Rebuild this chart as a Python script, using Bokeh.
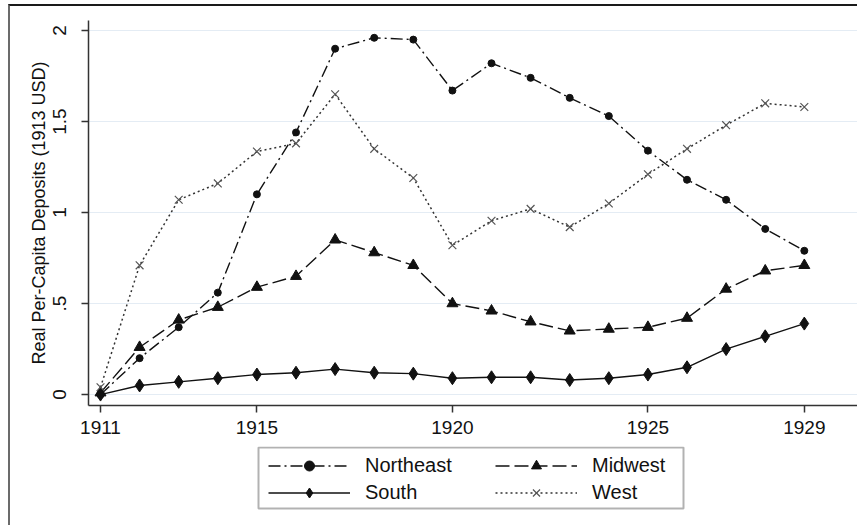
from bokeh.plotting import figure
from bokeh.layouts import column
from bokeh.models import Range1d, FixedTicker, Legend, LegendItem, BoxAnnotation
from bokeh.embed import file_html
from bokeh.resources import INLINE

years = list(range(1911, 1930))
northeast = [0.00, 0.20, 0.37, 0.56, 1.10, 1.44, 1.90, 1.96, 1.95, 1.67, 1.82, 1.74, 1.63, 1.53, 1.34, 1.18, 1.07, 0.91, 0.79]
midwest = [0.01, 0.26, 0.41, 0.48, 0.59, 0.65, 0.85, 0.78, 0.71, 0.50, 0.46, 0.40, 0.35, 0.36, 0.37, 0.42, 0.58, 0.68, 0.71]
south = [0.00, 0.05, 0.07, 0.09, 0.11, 0.12, 0.14, 0.12, 0.115, 0.09, 0.095, 0.095, 0.08, 0.09, 0.11, 0.15, 0.25, 0.32, 0.39]
west = [0.04, 0.71, 1.07, 1.16, 1.335, 1.38, 1.65, 1.35, 1.19, 0.82, 0.955, 1.02, 0.92, 1.05, 1.21, 1.35, 1.48, 1.60, 1.58]

series_names = ["Northeast", "Midwest", "South", "West"]
x_ticks = [1911, 1915, 1920, 1925, 1929]
y_ticks = [0, 0.5, 1, 1.5, 2]
y_tick_labels = ["0", ".5", "1", "1.5", "2"]
y_title = "Real Per-Capita Deposits (1913 USD)"

FONT = "Liberation Sans"
LC = "#111111"

# style of each series
styles = {
    "Northeast": dict(dash="12 4 2 4", lc=LC, lw=1.4, marker="circle", size=7, mfill=LC, mline=LC),
    "Midwest": dict(dash="14 5", lc=LC, lw=1.4, marker="triangle", size=11, mfill=LC, mline=LC),
    "South": dict(dash="solid", lc=LC, lw=1.4, marker="diamond", size=13, mfill=LC, mline=LC),
    "West": dict(dash="2 3", lc="#333333", lw=1.5, marker="x", size=11, mfill=None, mline="#555555"),
}
values = {"Northeast": northeast, "Midwest": midwest, "South": south, "West": west}


def draw_series(fig, name):
    s = styles[name]
    lr = fig.line(years, values[name], line_color=s["lc"], line_width=s["lw"], line_dash=s["dash"])
    if s["mfill"] is None:
        mr = fig.scatter(years, values[name], marker=s["marker"], size=s["size"],
                         line_color=s["mline"], line_width=1.2)
    else:
        mr = fig.scatter(years, values[name], marker=s["marker"], size=s["size"],
                         fill_color=s["mfill"], line_color=s["mline"])
    return lr, mr


# ---------------- main plot ----------------
p = figure(width=847, height=440, output_backend="svg", toolbar_location=None,
           x_range=Range1d(1910.693, 1930.36), y_range=Range1d(-0.060, 2.055),
           min_border_left=78, min_border_right=0, min_border_top=14, min_border_bottom=41)
p.outline_line_color = None
p.background_fill_color = "white"
p.border_fill_color = "white"
p.xgrid.visible = False
p.ygrid.grid_line_color = "#e4ecf4"
p.ygrid.grid_line_width = 1

for ax in (p.xaxis[0], p.yaxis[0]):
    ax.axis_line_color = "#333333"
    ax.axis_line_width = 1.5
    ax.major_tick_line_color = "#333333"
    ax.major_tick_line_width = 1.5
    ax.major_tick_out = 7
    ax.major_tick_in = 0
    ax.minor_tick_out = 0
    ax.minor_tick_in = 0
    ax.major_label_text_font = FONT
    ax.major_label_text_font_size = "19px"
    ax.major_label_text_color = "#111111"

p.xaxis.ticker = FixedTicker(ticks=x_ticks)
p.xaxis.major_label_standoff = 8
p.yaxis.ticker = FixedTicker(ticks=y_ticks)
p.yaxis.major_label_overrides = {t: l for t, l in zip(y_ticks, y_tick_labels)}
p.yaxis.major_label_orientation = "vertical"
p.yaxis.major_label_standoff = 15
p.yaxis.axis_label = y_title
p.yaxis.axis_label_text_font = FONT
p.yaxis.axis_label_text_font_size = "18px"
p.yaxis.axis_label_text_font_style = "normal"
p.yaxis.axis_label_text_color = "#111111"
p.yaxis.axis_label_standoff = 2

for name in series_names:
    draw_series(p, name)

# ---------------- legend panel (same series, drawn out of view; only the legend shows) ----------------
p2 = figure(width=847, height=79, output_backend="svg", toolbar_location=None,
            x_axis_type=None, y_axis_type=None, x_range=Range1d(0, 1), y_range=Range1d(10, 11),
            min_border=0)
p2.outline_line_color = None
p2.border_fill_color = "white"
p2.background_fill_color = "white"

items = {}
for name in series_names:
    lr, mr = draw_series(p2, name)
    items[name] = LegendItem(label=name, renderers=[lr, mr])


def make_legend(its, vx, vy):
    return Legend(items=its, location=(vx, vy), orientation="vertical",
                  border_line_color=None, background_fill_alpha=0,
                  padding=0, margin=0, spacing=2,
                  glyph_width=82, glyph_height=25, label_standoff=15,
                  label_text_font=FONT, label_text_font_size="20px",
                  label_text_color="#111111")


# legend offsets are measured from the frame's lower-left corner (frame starts 78px in)
p2.add_layout(make_legend([items["Northeast"], items["South"]], 180, 20.5))
p2.add_layout(make_legend([items["Midwest"], items["West"]], 407, 20.5))
p2.add_layout(BoxAnnotation(left=248, right=673, top=1, bottom=62,
                            left_units="canvas", right_units="canvas",
                            top_units="canvas", bottom_units="canvas",
                            fill_alpha=0, line_color="#000000", line_width=2))

layout = column(p, p2, spacing=0,
                styles={"margin-left": "8px", "margin-top": "4px",
                        "border-left": "2px solid #6b6b6b", "border-top": "2px solid #1a1a1a"})

open("out.html", "w").write(file_html(layout, INLINE))
